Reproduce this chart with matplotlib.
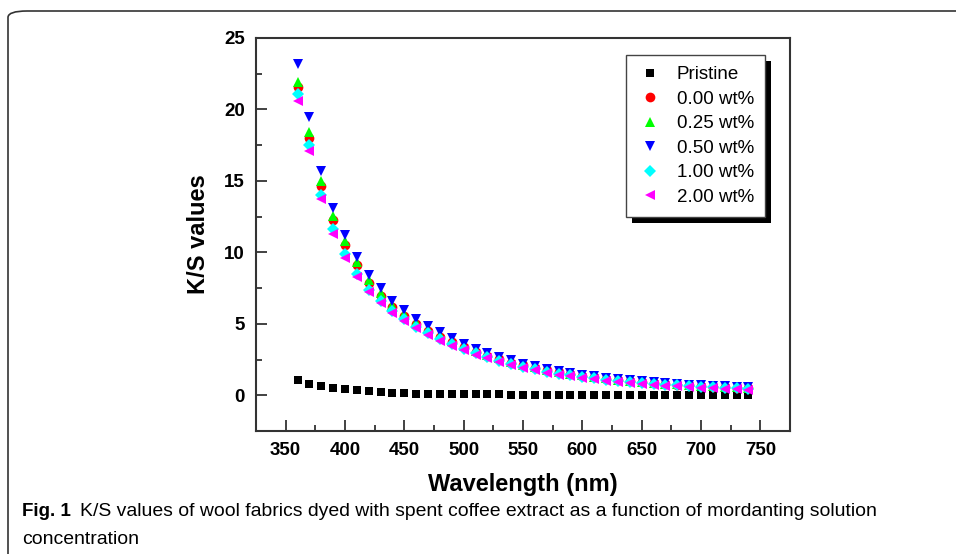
import numpy as np
import matplotlib
matplotlib.use('Agg')
import matplotlib.pyplot as plt
from matplotlib.patches import FancyBboxPatch, Rectangle
from matplotlib.ticker import MultipleLocator

wavelength = np.arange(360, 741, 10)

pristine = [1.06, 0.78, 0.63, 0.54, 0.45, 0.38, 0.31, 0.24, 0.19, 0.16, 0.12, 0.10, 0.10,
            0.08, 0.07, 0.07, 0.06, 0.06, 0.05, 0.05, 0.05, 0.04, 0.04, 0.04, 0.04, 0.03,
            0.03, 0.03, 0.03, 0.03, 0.03, 0.03, 0.03, 0.03, 0.03, 0.03, 0.03, 0.03, 0.03]
wt000 = [21.6, 18.0, 14.65, 12.25, 10.55, 9.1, 7.85, 6.95, 6.2, 5.55, 5.0, 4.53, 4.1,
         3.73, 3.37, 3.05, 2.77, 2.51, 2.29, 2.09, 1.91, 1.74, 1.6, 1.47, 1.35, 1.25,
         1.16, 1.07, 0.99, 0.92, 0.86, 0.8, 0.75, 0.70, 0.65, 0.61, 0.57, 0.54, 0.51]
wt025 = [21.9, 18.4, 15.0, 12.55, 10.8, 9.3, 8.05, 7.15, 6.35, 5.7, 5.12, 4.65, 4.22,
         3.83, 3.46, 3.13, 2.84, 2.58, 2.35, 2.14, 1.96, 1.79, 1.64, 1.51, 1.39, 1.28,
         1.19, 1.10, 1.02, 0.95, 0.88, 0.82, 0.77, 0.72, 0.67, 0.63, 0.59, 0.56, 0.53]
wt050 = [23.2, 19.5, 15.7, 13.1, 11.2, 9.7, 8.4, 7.5, 6.6, 5.95, 5.35, 4.85, 4.4,
         4.0, 3.6, 3.25, 2.95, 2.68, 2.45, 2.22, 2.03, 1.86, 1.71, 1.57, 1.45, 1.34,
         1.24, 1.15, 1.07, 0.99, 0.92, 0.86, 0.80, 0.75, 0.70, 0.66, 0.62, 0.58, 0.55]
wt100 = [21.1, 17.5, 14.0, 11.6, 9.9, 8.5, 7.4, 6.6, 5.9, 5.33, 4.8, 4.35, 3.95,
         3.58, 3.25, 2.93, 2.66, 2.41, 2.2, 2.0, 1.82, 1.66, 1.52, 1.39, 1.28, 1.18,
         1.09, 1.0, 0.93, 0.86, 0.8, 0.74, 0.69, 0.64, 0.6, 0.56, 0.52, 0.49, 0.46]
wt200 = [20.6, 17.1, 13.7, 11.3, 9.6, 8.3, 7.2, 6.45, 5.75, 5.2, 4.7, 4.22, 3.83,
         3.47, 3.17, 2.85, 2.58, 2.33, 2.12, 1.92, 1.74, 1.58, 1.44, 1.32, 1.21, 1.11,
         1.02, 0.94, 0.87, 0.8, 0.74, 0.68, 0.63, 0.58, 0.54, 0.50, 0.46, 0.43, 0.40]

series = [
    ('Pristine', pristine, 's', 'black', 5.5),
    ('0.00 wt%', wt000, 'o', 'red', 7),
    ('0.25 wt%', wt025, '^', '#00ff00', 7.5),
    ('0.50 wt%', wt050, 'v', 'blue', 7.5),
    ('1.00 wt%', wt100, 'D', 'cyan', 6),
    ('2.00 wt%', wt200, '<', 'magenta', 7.5),
]

caption_head = 'Fig. 1'
caption_1 = 'K/S values of wool fabrics dyed with spent coffee extract as a function of mordanting solution'
caption_2 = 'concentration'

plt.rcParams['font.family'] = ['Liberation Sans', 'DejaVu Sans']

fig = plt.figure(figsize=(9.56, 5.54), dpi=100)
ax = fig.add_axes([256/956, 1-431/554, (790-256)/956, (431-38)/554])

for name, vals, mk, col, ms in series:
    ax.plot(wavelength, vals, linestyle='none', marker=mk, color=col,
            markersize=ms, markeredgewidth=0, label=name)

ax.set_xlim(325, 775)
ax.set_ylim(-2.5, 25)
ax.xaxis.set_major_locator(MultipleLocator(50))
ax.xaxis.set_minor_locator(MultipleLocator(25))
ax.yaxis.set_major_locator(MultipleLocator(5))
ax.yaxis.set_minor_locator(MultipleLocator(2.5))
ax.tick_params(which='both', direction='in', top=False, right=False,
               width=1.3, colors='#333333', labelcolor='black')
ax.tick_params(which='major', length=8, labelsize=13.5, pad=8)
ax.tick_params(which='minor', length=4)
for lab in ax.get_xticklabels() + ax.get_yticklabels():
    lab.set_fontweight('bold')
for sp in ax.spines.values():
    sp.set_linewidth(1.5)
    sp.set_color('#333333')

ax.set_xlabel('Wavelength (nm)', fontsize=17, fontweight='bold', labelpad=10)
ax.set_ylabel('K/S values', fontsize=17, fontweight='bold', labelpad=10)

leg = ax.legend(loc='upper right', bbox_to_anchor=((765-256)/534, 1-(55-38)/393),
                fontsize=13.5, frameon=True, fancybox=False, handletextpad=0.7,
                borderpad=0.6, labelspacing=0.39, handlelength=1.4,
                borderaxespad=0, framealpha=1)
leg.get_frame().set_edgecolor('#444444')
leg.get_frame().set_facecolor('white')
leg.get_frame().set_linewidth(1.0)

# caption: head first, then the line fitted so it ends where the reference does
t_head = fig.text(22/956, 1-512/554, caption_head, fontsize=13.5, fontweight='bold', va='center')
t_1 = fig.text(75/956, 1-512/554, caption_1, fontsize=14, va='center')
t_2 = fig.text(22/956, 1-540/554, caption_2, fontsize=13.5, va='center')

fig.canvas.draw()
r = fig.canvas.get_renderer()
head_end = t_head.get_window_extent(r).x1
start = head_end + 9
t_1.set_x(start / 956)
size = 14 * (880 - start) / t_1.get_window_extent(r).width
t_1.set_fontsize(size)
t_2.set_fontsize(size)

bb = leg.get_window_extent(r).transformed(fig.transFigure.inverted())
shadow = Rectangle((bb.x0 + 6/956, bb.y0 - 6/554), bb.width, bb.height,
                   transform=fig.transFigure, facecolor='black', edgecolor='none',
                   zorder=4)
ax.add_artist(shadow)
shadow.set_clip_on(False)

# outer rounded frame
box = FancyBboxPatch((8/956, -0.2), 1.2, 1 - 11/554 + 0.2,
                     boxstyle='round,pad=0,rounding_size=0.02',
                     transform=fig.transFigure, facecolor='none',
                     edgecolor='#333333', linewidth=1.2, mutation_aspect=554/956)
fig.patches.append(box)

fig.savefig('out.png', dpi=100)
